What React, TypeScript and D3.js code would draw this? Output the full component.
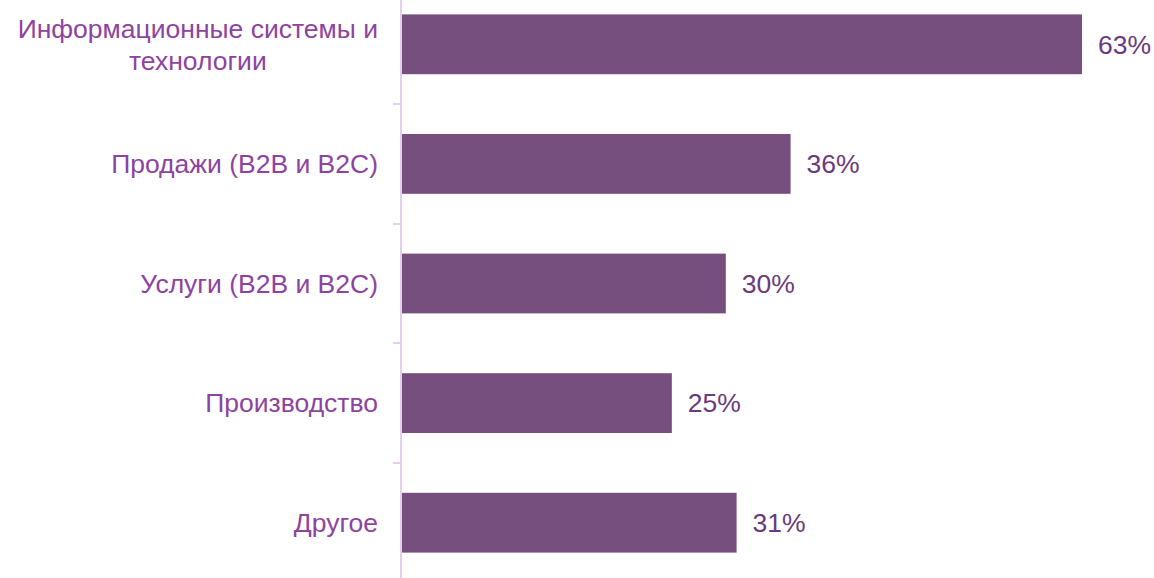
import { useEffect, useRef } from "react";
import * as d3 from "d3";

const categories = [
  "Информационные системы и технологии",
  "Продажи (B2B и B2C)",
  "Услуги (B2B и B2C)",
  "Производство",
  "Другое",
];
const values = [63, 36, 30, 25, 31];
// how the long category name wraps onto two lines
const wrapped: Record<string, string[]> = {
  "Информационные системы и технологии": ["Информационные системы и", "технологии"],
};

const App = () => {
  const ref = useRef<HTMLDivElement | null>(null);

  useEffect(() => {
    if (!ref.current) return;
    document.body.style.margin = "0";
    const width = 1154;
    const height = 578;
    const axisX = 402;
    const fontSize = 26.5;

    const svg = d3
      .select(ref.current)
      .append("svg")
      .attr("width", width)
      .attr("height", height)
      .style("display", "block")
      .style("font-family", "'Liberation Sans', Arial, sans-serif");

    const y = d3.scaleBand().domain(categories).range([-15.5, 582.5]).paddingInner(0.5).paddingOuter(0.25);
    const x = d3.scaleLinear().domain([0, 63]).range([axisX, 1082]);

    // bars
    svg
      .selectAll("rect.bar")
      .data(values)
      .join("rect")
      .attr("class", "bar")
      .attr("x", x(0))
      .attr("y", (_, i) => y(categories[i])!)
      .attr("width", (d) => x(d) - x(0))
      .attr("height", y.bandwidth())
      .attr("fill", "#774f7e");

    // value labels
    svg
      .selectAll("text.val")
      .data(values)
      .join("text")
      .attr("class", "val")
      .attr("x", (d) => x(d) + 16)
      .attr("y", (_, i) => y(categories[i])! + y.bandwidth() / 2)
      .attr("dy", "0.35em")
      .attr("font-size", fontSize)
      .attr("fill", "#6a3a7c")
      .text((d) => `${d}%`);

    // axis line and ticks between categories
    svg
      .append("line")
      .attr("x1", axisX - 1)
      .attr("x2", axisX - 1)
      .attr("y1", 0)
      .attr("y2", height)
      .attr("stroke", "#e3cfe9")
      .attr("stroke-width", 2);

    const step = y.step();
    categories.slice(1).forEach((c) => {
      const ty = Math.round(y(c)! - (step - y.bandwidth()) / 2);
      svg
        .append("line")
        .attr("x1", axisX - 9)
        .attr("x2", axisX - 1)
        .attr("y1", ty)
        .attr("y2", ty)
        .attr("stroke", "#e3cfe9")
        .attr("stroke-width", 2);
    });

    // category labels
    const labelRight = 378;
    categories.forEach((c) => {
      const cy = y(c)! + y.bandwidth() / 2;
      const lines = wrapped[c] || [c];
      const lh = 32;
      const g = svg.append("g");
      const texts = lines.map((ln, li) =>
        g
          .append("text")
          .attr("y", cy + (li - (lines.length - 1) / 2) * lh)
          .attr("dy", "0.35em")
          .attr("font-size", fontSize)
          .attr("fill", "#8e43a0")
          .text(ln)
      );
      const maxW = d3.max(texts, (t) => (t.node() as SVGTextElement).getComputedTextLength())!;
      texts.forEach((t) => t.attr("x", labelRight - maxW / 2).attr("text-anchor", "middle"));
    });

    return () => {
      svg.remove();
    };
  }, []);

  return <div ref={ref}></div>;
};

export default App;
